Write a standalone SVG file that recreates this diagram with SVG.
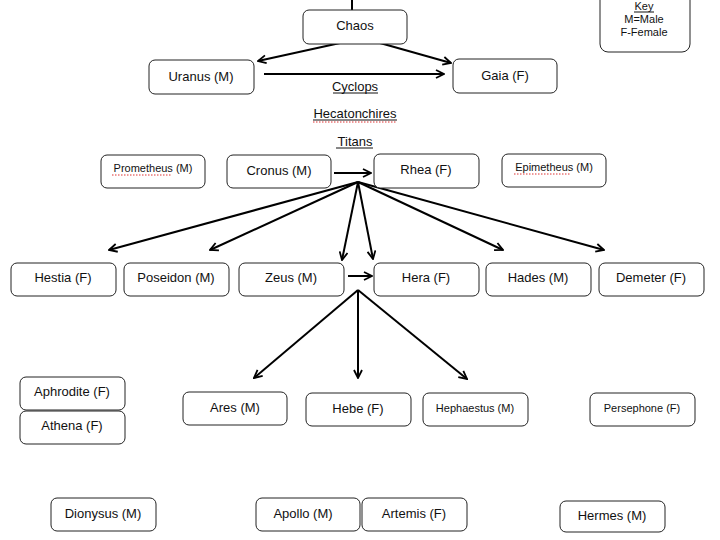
<svg xmlns="http://www.w3.org/2000/svg" width="720" height="540" viewBox="0 0 720 540">
<defs>
<marker id="ah" viewBox="0 0 10 10" refX="9" refY="5" markerWidth="10" markerHeight="10" markerUnits="userSpaceOnUse" orient="auto">
<path d="M1,1 L9,5 L1,9" fill="none" stroke="#000" stroke-width="1.8"/>
</marker>
<style>
.box{fill:#fff;stroke:#222;stroke-width:1}
.t{font-family:"Liberation Sans",Arial,sans-serif;font-size:13px;fill:#111;text-anchor:middle}
.s{font-size:11px}
.c{stroke:#000;stroke-width:2;fill:none}
.u{stroke:#111;stroke-width:1}
.sp{stroke:#d33;stroke-width:1;stroke-dasharray:1.5 1.5}
</style>
</defs>
<rect width="720" height="540" fill="#fff"/>
<g id="connectors">
<line class="c" x1="352" y1="0" x2="352" y2="22"/>
<line class="c" x1="340" y1="43" x2="258" y2="61" marker-end="url(#ah)"/>
<line class="c" x1="380" y1="43" x2="451" y2="63" marker-end="url(#ah)"/>
<line class="c" x1="264" y1="74" x2="444" y2="74" marker-end="url(#ah)"/>
<line class="c" x1="334" y1="173" x2="371" y2="173" marker-end="url(#ah)"/>
<line class="c" x1="358" y1="182" x2="109" y2="250" marker-end="url(#ah)"/>
<line class="c" x1="358" y1="182" x2="210" y2="250" marker-end="url(#ah)"/>
<line class="c" x1="358" y1="182" x2="342" y2="260" marker-end="url(#ah)"/>
<line class="c" x1="358" y1="182" x2="373" y2="259" marker-end="url(#ah)"/>
<line class="c" x1="358" y1="182" x2="503" y2="250" marker-end="url(#ah)"/>
<line class="c" x1="358" y1="182" x2="604" y2="250" marker-end="url(#ah)"/>
<line class="c" x1="348" y1="276" x2="372" y2="276" marker-end="url(#ah)"/>
<line class="c" x1="358" y1="290" x2="254" y2="378" marker-end="url(#ah)"/>
<line class="c" x1="358" y1="290" x2="358" y2="378" marker-end="url(#ah)"/>
<line class="c" x1="358" y1="290" x2="467" y2="379" marker-end="url(#ah)"/>
</g>
<g id="key"><rect class="box" x="600" y="-10" width="90" height="62" rx="8"/>
<text class="t s" x="644" y="10">Key</text><line class="u" x1="634" y1="12" x2="654" y2="12"/>
<text class="t s" x="644" y="23">M=Male</text><text class="t s" x="644" y="36">F-Female</text></g>
<g id="chaos"><rect class="box" x="303" y="10" width="104" height="34" rx="6"/><text class="t" x="355" y="30">Chaos</text></g>
<g id="uranus"><rect class="box" x="149" y="60" width="105" height="34" rx="6"/><text class="t" x="201" y="81">Uranus (M)</text></g>
<g id="gaia"><rect class="box" x="453" y="59" width="104" height="34" rx="6"/><text class="t" x="505" y="80">Gaia (F)</text></g>
<g id="cyclops"><text class="t" x="355" y="91">Cyclops</text><line class="u" x1="333" y1="93" x2="378" y2="93"/></g>
<g id="hecatonchires"><text class="t" x="355" y="118">Hecatonchires</text><line class="u" x1="313" y1="120" x2="397" y2="120"/><line class="sp" x1="313" y1="122" x2="397" y2="122"/></g>
<g id="titans"><text class="t" x="355" y="146">Titans</text><line class="u" x1="336" y1="148" x2="373" y2="148"/></g>
<g id="prometheus"><rect class="box" x="101" y="155" width="104" height="33" rx="6"/><text class="t s" x="153" y="172">Prometheus (M)</text><line class="sp" x1="112" y1="175" x2="172" y2="175"/></g>
<g id="cronus"><rect class="box" x="227" y="155" width="104" height="33" rx="6"/><text class="t" x="279" y="175">Cronus (M)</text></g>
<g id="rhea"><rect class="box" x="374" y="154" width="105" height="34" rx="6"/><text class="t" x="426" y="174">Rhea (F)</text></g>
<g id="epimetheus"><rect class="box" x="502" y="154" width="104" height="33" rx="6"/><text class="t s" x="554" y="171">Epimetheus (M)</text><line class="sp" x1="514" y1="174" x2="571" y2="174"/></g>
<g id="hestia"><rect class="box" x="11" y="263" width="105" height="33" rx="6"/><text class="t" x="63" y="282">Hestia (F)</text></g>
<g id="poseidon"><rect class="box" x="124" y="263" width="105" height="33" rx="6"/><text class="t" x="176" y="282">Poseidon (M)</text></g>
<g id="zeus"><rect class="box" x="239" y="263" width="105" height="33" rx="6"/><text class="t" x="291" y="282">Zeus (M)</text></g>
<g id="hera"><rect class="box" x="374" y="263" width="105" height="33" rx="6"/><text class="t" x="426" y="282">Hera (F)</text></g>
<g id="hades"><rect class="box" x="486" y="263" width="105" height="33" rx="6"/><text class="t" x="538" y="282">Hades (M)</text></g>
<g id="demeter"><rect class="box" x="599" y="263" width="105" height="33" rx="6"/><text class="t" x="651" y="282">Demeter (F)</text></g>
<g id="aphrodite"><rect class="box" x="20" y="377" width="105" height="33" rx="6"/><text class="t" x="72" y="396">Aphrodite (F)</text></g>
<g id="athena"><rect class="box" x="20" y="411" width="105" height="33" rx="6"/><text class="t" x="72" y="430">Athena (F)</text></g>
<g id="ares"><rect class="box" x="183" y="392" width="104" height="33" rx="6"/><text class="t" x="235" y="412">Ares (M)</text></g>
<g id="hebe"><rect class="box" x="306" y="393" width="105" height="33" rx="6"/><text class="t" x="358" y="413">Hebe (F)</text></g>
<g id="hephaestus"><rect class="box" x="423" y="393" width="105" height="33" rx="6"/><text class="t s" x="475" y="412">Hephaestus (M)</text></g>
<g id="persephone"><rect class="box" x="590" y="393" width="105" height="33" rx="6"/><text class="t s" x="642" y="412">Persephone (F)</text></g>
<g id="dionysus"><rect class="box" x="51" y="498" width="105" height="33" rx="6"/><text class="t" x="103" y="518">Dionysus (M)</text></g>
<g id="apollo"><rect class="box" x="256" y="498" width="104" height="33" rx="6"/><text class="t" x="303" y="518">Apollo (M)</text></g>
<g id="artemis"><rect class="box" x="362" y="498" width="105" height="33" rx="6"/><text class="t" x="414" y="518">Artemis (F)</text></g>
<g id="hermes"><rect class="box" x="560" y="501" width="105" height="31" rx="6"/><text class="t" x="612" y="520">Hermes (M)</text></g>
</svg>
